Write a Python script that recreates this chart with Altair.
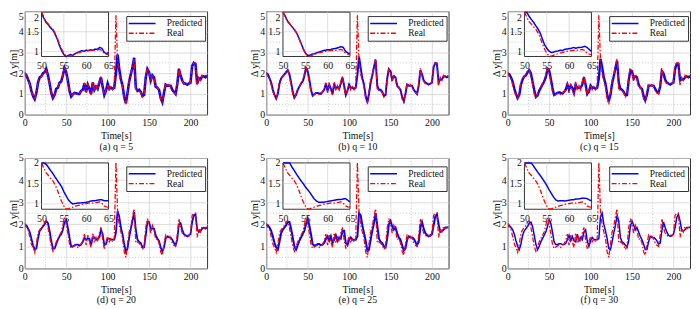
import altair as alt
import pandas as pd

FONT = "Liberation Serif"

# ---------------- data ----------------
time = list(range(0, 221, 2))                      # seconds, main plots
inset_time = [50 + 0.5 * i for i in range(31)]     # seconds, zoomed insets

real = [2.05, 1.85, 1.75, 1.45, 1.10, 0.95, 0.72, 1.10, 1.60, 1.75,
        1.85, 1.95, 2.10, 2.15, 1.85, 1.45, 1.00, 0.78, 1.00, 1.20,
        1.35, 1.50, 1.65, 1.95, 2.30, 2.00, 1.60, 1.10, 0.90, 0.97,
        1.02, 1.05, 0.95, 1.05, 1.10, 1.25, 1.55, 1.05, 1.50, 1.20,
        0.95, 1.60, 1.15, 1.40, 1.20, 1.60, 1.85, 1.30, 0.90, 1.20,
        1.45, 1.20, 1.35, 1.20, 1.35, 4.80, 2.60, 1.95, 1.65, 1.35,
        0.75, 0.50, 1.10, 1.65, 1.90, 2.35, 2.70, 1.15, 1.20, 1.15,
        1.05, 0.85, 1.00, 1.85, 2.25, 2.00, 1.60, 1.95, 1.75, 1.30,
        1.35, 1.15, 0.75, 0.60, 1.10, 1.50, 1.35, 1.45, 1.35, 1.15,
        1.05, 1.00, 1.50, 2.25, 1.85, 1.60, 1.50, 1.45, 1.50, 1.45,
        1.60, 2.40, 2.50, 2.50, 1.40, 1.80, 1.65, 1.90, 1.80, 1.85,
        1.90]

pred_q5 = [2.00, 1.90, 1.70, 1.50, 1.15, 0.90, 0.75, 1.05, 1.55, 1.80,
           1.85, 2.00, 2.05, 2.20, 1.90, 1.50, 1.05, 0.80, 0.95, 1.25,
           1.30, 1.55, 1.60, 1.90, 2.25, 2.05, 1.65, 1.15, 0.88, 0.98,
           1.05, 1.03, 1.00, 1.00, 1.15, 1.20, 1.50, 1.10, 1.45, 1.25,
           1.00, 1.55, 1.20, 1.35, 1.25, 1.55, 1.80, 1.35, 0.95, 1.15,
           1.50, 1.25, 1.30, 1.25, 1.30, 2.00, 2.90, 2.20, 1.70, 1.40,
           0.85, 0.55, 1.05, 1.60, 1.95, 2.30, 2.75, 1.30, 1.15, 1.20,
           1.10, 0.90, 0.95, 1.80, 2.20, 2.05, 1.65, 1.90, 1.80, 1.35,
           1.30, 1.20, 0.80, 0.60, 1.05, 1.45, 1.40, 1.40, 1.40, 1.20,
           1.10, 1.00, 1.45, 2.20, 1.90, 1.65, 1.50, 1.50, 1.45, 1.50,
           1.55, 2.35, 2.50, 2.45, 1.50, 1.75, 1.70, 1.85, 1.85, 1.80,
           1.90]

pred_q10 = [2.00, 1.95, 1.75, 1.55, 1.20, 0.95, 0.78, 1.00, 1.50, 1.75,
            1.85, 1.95, 2.05, 2.15, 1.95, 1.55, 1.10, 0.82, 0.95, 1.20,
            1.35, 1.50, 1.60, 1.85, 2.25, 2.10, 1.70, 1.20, 0.92, 0.98,
            1.05, 1.05, 1.02, 1.00, 1.10, 1.20, 1.50, 1.15, 1.45, 1.25,
            1.00, 1.50, 1.25, 1.35, 1.25, 1.50, 1.80, 1.40, 0.95, 1.15,
            1.45, 1.30, 1.30, 1.25, 1.30, 1.90, 2.80, 2.25, 1.75, 1.45,
            0.90, 0.60, 1.00, 1.55, 1.90, 2.30, 2.65, 1.40, 1.20, 1.20,
            1.10, 0.90, 0.95, 1.75, 2.20, 2.10, 1.70, 1.85, 1.80, 1.40,
            1.30, 1.20, 0.85, 0.65, 1.00, 1.45, 1.40, 1.40, 1.40, 1.20,
            1.10, 1.00, 1.40, 2.15, 1.95, 1.65, 1.55, 1.50, 1.45, 1.50,
            1.55, 2.30, 2.50, 2.45, 1.55, 1.70, 1.70, 1.85, 1.85, 1.80,
            1.85]

pred_q15 = [1.95, 1.95, 1.80, 1.60, 1.25, 1.00, 0.80, 0.95, 1.45, 1.70,
            1.85, 1.90, 2.05, 2.15, 2.00, 1.60, 1.20, 0.85, 0.92, 1.15,
            1.30, 1.45, 1.60, 1.80, 2.20, 2.15, 1.75, 1.30, 0.95, 1.00,
            1.05, 1.08, 1.05, 1.02, 1.10, 1.20, 1.45, 1.20, 1.40, 1.30,
            1.05, 1.45, 1.30, 1.30, 1.30, 1.45, 1.80, 1.45, 1.00, 1.10,
            1.40, 1.30, 1.30, 1.25, 1.30, 1.75, 2.70, 2.30, 1.80, 1.50,
            1.00, 0.65, 0.95, 1.50, 1.85, 2.25, 2.60, 1.55, 1.25, 1.20,
            1.10, 0.95, 0.95, 1.65, 2.15, 2.10, 1.75, 1.85, 1.80, 1.45,
            1.30, 1.25, 0.90, 0.70, 0.95, 1.40, 1.40, 1.40, 1.40, 1.25,
            1.10, 1.05, 1.35, 2.10, 2.00, 1.70, 1.55, 1.50, 1.45, 1.50,
            1.55, 2.20, 2.45, 2.45, 1.65, 1.70, 1.70, 1.80, 1.85, 1.80,
            1.85]

pred_q20 = [1.95, 1.95, 1.80, 1.65, 1.35, 1.05, 0.85, 0.90, 1.35, 1.70,
            1.80, 1.90, 2.00, 2.15, 2.05, 1.70, 1.25, 0.90, 0.90, 1.10,
            1.30, 1.45, 1.55, 1.75, 2.10, 2.20, 1.85, 1.40, 1.00, 1.00,
            1.05, 1.08, 1.08, 1.03, 1.08, 1.20, 1.40, 1.30, 1.35, 1.35,
            1.05, 1.40, 1.40, 1.30, 1.35, 1.40, 1.75, 1.55, 1.05, 1.10,
            1.35, 1.35, 1.30, 1.30, 1.30, 1.60, 2.60, 2.35, 1.85, 1.55,
            1.10, 0.75, 0.90, 1.40, 1.80, 2.15, 2.55, 1.75, 1.30, 1.20,
            1.15, 0.95, 0.95, 1.50, 2.10, 2.10, 1.80, 1.80, 1.80, 1.50,
            1.35, 1.25, 0.95, 0.75, 0.95, 1.35, 1.45, 1.40, 1.40, 1.30,
            1.15, 1.05, 1.30, 2.00, 2.05, 1.75, 1.55, 1.50, 1.45, 1.50,
            1.55, 2.10, 2.40, 2.45, 1.80, 1.65, 1.70, 1.80, 1.85, 1.80,
            1.85]

pred_q25 = [1.95, 1.95, 1.85, 1.70, 1.45, 1.15, 0.95, 0.85, 1.20, 1.60,
            1.75, 1.85, 1.95, 2.10, 2.10, 1.80, 1.40, 1.00, 0.85, 1.05,
            1.25, 1.40, 1.55, 1.70, 2.00, 2.25, 1.95, 1.55, 1.10, 1.03,
            1.05, 1.10, 1.10, 1.05, 1.08, 1.15, 1.35, 1.45, 1.25, 1.45,
            1.15, 1.30, 1.50, 1.25, 1.40, 1.35, 1.70, 1.70, 1.15, 1.05,
            1.30, 1.40, 1.30, 1.30, 1.30, 1.45, 2.50, 2.40, 1.95, 1.60,
            1.25, 0.80, 0.85, 1.30, 1.70, 2.05, 2.50, 1.95, 1.35, 1.20,
            1.15, 1.00, 0.95, 1.35, 2.00, 2.15, 1.90, 1.75, 1.85, 1.60,
            1.40, 1.30, 1.05, 0.80, 0.90, 1.30, 1.45, 1.40, 1.40, 1.35,
            1.20, 1.05, 1.20, 1.85, 2.10, 1.80, 1.60, 1.50, 1.45, 1.50,
            1.55, 1.95, 2.35, 2.45, 2.00, 1.65, 1.70, 1.75, 1.85, 1.85,
            1.85]

pred_q30 = [1.90, 1.95, 1.85, 1.75, 1.55, 1.25, 1.00, 0.85, 1.10, 1.50,
            1.70, 1.80, 1.90, 2.05, 2.10, 1.90, 1.50, 1.10, 0.85, 1.00,
            1.20, 1.35, 1.50, 1.65, 1.90, 2.20, 2.05, 1.65, 1.20, 1.08,
            1.08, 1.12, 1.12, 1.08, 1.08, 1.12, 1.30, 1.50, 1.25, 1.45,
            1.25, 1.20, 1.55, 1.25, 1.40, 1.30, 1.65, 1.75, 1.25, 1.00,
            1.25, 1.40, 1.30, 1.30, 1.30, 1.35, 2.35, 2.50, 2.00, 1.70,
            1.35, 0.90, 0.85, 1.20, 1.60, 1.95, 2.40, 2.15, 1.40, 1.20,
            1.15, 1.05, 0.95, 1.25, 1.90, 2.15, 1.95, 1.75, 1.85, 1.65,
            1.45, 1.30, 1.10, 0.85, 0.85, 1.20, 1.45, 1.40, 1.40, 1.35,
            1.25, 1.10, 1.15, 1.70, 2.10, 1.85, 1.65, 1.50, 1.45, 1.50,
            1.55, 1.85, 2.30, 2.45, 2.15, 1.70, 1.70, 1.75, 1.85, 1.85,
            1.85]

real_in = [2.00, 1.88, 1.76, 1.70, 1.63, 1.57, 1.48, 1.35, 1.20, 1.06,
           0.95, 0.88, 0.88, 0.90, 0.92, 0.94, 0.96, 0.97, 0.99, 1.00,
           1.01, 1.02, 1.03, 1.02, 1.03, 1.04, 1.05, 1.02, 0.95, 0.93,
           0.92]
pred_in_q5 = [1.97, 1.85, 1.74, 1.68, 1.60, 1.55, 1.45, 1.32, 1.15, 1.02,
              0.92, 0.87, 0.90, 0.92, 0.90, 0.94, 0.97, 0.99, 1.02, 1.00,
              1.03, 1.02, 1.04, 1.03, 1.06, 1.05, 1.10, 1.08, 0.98, 0.94,
              0.97]
pred_in_q10 = [2.00, 1.90, 1.78, 1.70, 1.63, 1.56, 1.48, 1.36, 1.22, 1.08,
               0.96, 0.90, 0.90, 0.93, 0.94, 0.96, 0.98, 1.00, 1.02, 1.03,
               1.04, 1.04, 1.06, 1.07, 1.08, 1.10, 1.12, 1.10, 1.00, 0.96,
               0.94]
pred_in_q15 = [2.10, 2.02, 1.90, 1.82, 1.75, 1.66, 1.58, 1.47, 1.32, 1.17,
               1.08, 1.01, 0.97, 0.98, 1.00, 1.01, 1.03, 1.02, 1.05, 1.06,
               1.07, 1.08, 1.10, 1.08, 1.10, 1.10, 1.11, 1.13, 1.10, 1.05,
               1.00]
pred_in_q20 = [2.15, 2.05, 1.97, 1.90, 1.82, 1.75, 1.66, 1.58, 1.50, 1.42,
               1.30, 1.20, 1.10, 1.04, 1.00, 1.01, 1.02, 1.02, 1.03, 1.03,
               1.04, 1.05, 1.07, 1.08, 1.08, 1.09, 1.10, 1.10, 1.08, 1.08,
               1.08]
pred_in_q25 = [2.25, 2.15, 2.06, 2.00, 1.90, 1.82, 1.73, 1.65, 1.57, 1.50,
               1.42, 1.35, 1.28, 1.20, 1.12, 1.07, 1.04, 1.04, 1.04, 1.05,
               1.06, 1.07, 1.08, 1.09, 1.10, 1.11, 1.11, 1.12, 1.13, 1.09,
               1.05]
pred_in_q30 = [2.35, 2.25, 2.12, 2.02, 1.93, 1.85, 1.77, 1.70, 1.62, 1.54,
               1.45, 1.35, 1.26, 1.17, 1.10, 1.07, 1.08, 1.08, 1.07, 1.08,
               1.09, 1.10, 1.10, 1.12, 1.12, 1.13, 1.14, 1.14, 1.13, 1.10,
               1.08]

captions = ["(a) q = 5", "(b) q = 10", "(c) q = 15",
            "(d) q = 20", "(e) q = 25", "(f) q = 30"]
series_names = ["Predicted", "Real"]
x_lim = [0, 220]
y_lim = [0, 5]
x_ticks = [0, 50, 100, 150, 200]
y_ticks = [0, 1, 2, 3, 4, 5]
x_minor = [25, 75, 125, 175]
y_minor = [0.5, 1.5, 2.5, 3.5, 4.5]
inset_xlim = [50, 65]
inset_ylim = [0.87, 2.0]
inset_x_ticks = [50, 55, 60, 65]
inset_y_ticks = [1, 1.5, 2]

for arr in [real, pred_q5, pred_q10, pred_q15, pred_q20, pred_q25, pred_q30]:
    assert len(arr) == len(time), len(arr)
for arr in [real_in, pred_in_q5, pred_in_q10, pred_in_q15, pred_in_q20, pred_in_q25, pred_in_q30]:
    assert len(arr) == len(inset_time), len(arr)

# ---------------- styling ----------------
COLORS = ["#0000ff", "#ff0000"]
DASHES = [[1, 0], [5, 2, 1.5, 2]]
W = 185
TXT = dict(labelFont=FONT, labelFontSize=10, labelColor="#111")


def legend(y):
    return alt.Legend(title=None, orient="none", legendX=103, legendY=y,
                      direction="vertical", fillColor="white", strokeColor="#333",
                      padding=2.5, symbolType="M-3.4,0H3.4", symbolSize=64,
                      symbolStrokeWidth=1.5, symbolOffset=8.6, labelOffset=20,
                      labelFont=FONT, labelFontSize=9.5, labelColor="#111",
                      rowPadding=0, cornerRadius=0)


def panel(caption, pred, pred_in, pw, H, iy_px, legend_y, top_row):
    color = alt.Color("series:N", scale=alt.Scale(domain=series_names, range=COLORS),
                      legend=legend(legend_y))
    dash = alt.StrokeDash("series:N", scale=alt.Scale(domain=series_names, range=DASHES),
                          legend=legend(legend_y))
    xs = alt.Scale(domain=x_lim, nice=False, zero=False)
    ys = alt.Scale(domain=y_lim, nice=False, zero=False)
    ybase = ({"condition": {"test": "datum.value == 5", "value": "top"}, "value": "middle"}
             if top_row else "middle")
    xaxis = alt.Axis(values=x_ticks, title=["Time[s]", caption], grid=True,
                     gridColor="#d4d4d4", gridWidth=0.8, ticks=False, domain=False,
                     labelPadding=3, titlePadding=3, titleLineHeight=11,
                     titleFont=FONT, titleFontSize=10, titleFontWeight="normal",
                     titleColor="#111", labelFlush=False, labelOverlap=False,
                     orient="bottom", **TXT)
    yaxis = alt.Axis(values=y_ticks, title="\u0394 y[m]", grid=True,
                     gridColor="#d4d4d4", gridWidth=0.8, ticks=False, domain=False,
                     labelPadding=1.5, titlePadding=0, labelBaseline=ybase, orient="left",
                     titleFont=FONT, titleFontSize=10, titleFontWeight="normal",
                     titleColor="#111", labelOverlap=False, **TXT)

    pred_df = pd.DataFrame({"t": time, "v": pred, "series": "Predicted"})
    real_df = pd.DataFrame({"t": time, "v": real, "series": "Real"})
    mx = alt.Chart(pd.DataFrame({"t": x_minor})).mark_rule(
        color="#b0b0b0", strokeDash=[1, 2], strokeWidth=0.7, clip=True).encode(
        x=alt.X("t:Q", scale=xs, axis=None))
    my = alt.Chart(pd.DataFrame({"v": y_minor})).mark_rule(
        color="#b0b0b0", strokeDash=[1, 2], strokeWidth=0.7, clip=True).encode(
        y=alt.Y("v:Q", scale=ys, axis=None))
    lp = alt.Chart(pred_df).mark_line(strokeWidth=pw, clip=True).encode(
        x=alt.X("t:Q", scale=xs, axis=xaxis), y=alt.Y("v:Q", scale=ys, axis=yaxis),
        color=color, strokeDash=dash)
    lr = alt.Chart(real_df).mark_line(strokeWidth=1.3, clip=True).encode(
        x=alt.X("t:Q", scale=xs, axis=None), y=alt.Y("v:Q", scale=ys, axis=None),
        color=color, strokeDash=dash)

    # inset
    ileft, iright = 17, 85
    itop, ibot = iy_px
    ixs = alt.Scale(domain=inset_xlim, range=[ileft, iright], nice=False, zero=False)
    iys = alt.Scale(domain=inset_ylim, range=[ibot, itop], nice=False, zero=False, clamp=True)
    iybase = ({"condition": {"test": "datum.value == 2", "value": "top"}, "value": "middle"}
              if top_row else "middle")
    ixaxis = alt.Axis(orient="bottom", offset=-(H - ibot), values=inset_x_ticks, title=None,
                      grid=False, ticks=False, domain=False, labelPadding=4,
                      labelFlush=False, labelOverlap=False, **TXT)
    iyaxis = alt.Axis(orient="left", offset=-ileft, values=inset_y_ticks, format="~g",
                      title=None, grid=False, ticks=False, domain=False, labelPadding=3,
                      labelBaseline=iybase, labelOverlap=False, **TXT)
    box = pd.DataFrame({"x0": [inset_xlim[0]], "x1": [inset_xlim[1]],
                        "y0": [inset_ylim[0]], "y1": [inset_ylim[1]]})
    rect = alt.Chart(box).mark_rect(fill="white", stroke="#333", strokeWidth=1,
                                    clip=True).encode(
        x=alt.X("x0:Q", scale=ixs, axis=ixaxis), x2="x1:Q",
        y=alt.Y("y0:Q", scale=iys, axis=iyaxis), y2="y1:Q")
    gx = pd.DataFrame({"t": inset_x_ticks[1:-1], "y0": inset_ylim[0], "y1": inset_ylim[1]})
    gy = pd.DataFrame({"v": inset_y_ticks[:-1], "x0": inset_xlim[0], "x1": inset_xlim[1]})
    igx = alt.Chart(gx).mark_rule(color="#cfcfcf", strokeWidth=0.7, clip=True).encode(
        x=alt.X("t:Q", scale=ixs, axis=None), y=alt.Y("y0:Q", scale=iys, axis=None), y2="y1:Q")
    igy = alt.Chart(gy).mark_rule(color="#cfcfcf", strokeWidth=0.7, clip=True).encode(
        y=alt.Y("v:Q", scale=iys, axis=None), x=alt.X("x0:Q", scale=ixs, axis=None), x2="x1:Q")
    ipd = pd.DataFrame({"t": inset_time, "v": pred_in, "series": "Predicted"})
    ird = pd.DataFrame({"t": inset_time, "v": real_in, "series": "Real"})
    ipl = alt.Chart(ipd).mark_line(strokeWidth=1.5, clip=True).encode(
        x=alt.X("t:Q", scale=ixs, axis=None), y=alt.Y("v:Q", scale=iys, axis=None),
        color=color, strokeDash=dash)
    irl = alt.Chart(ird).mark_line(strokeWidth=1.3, clip=True).encode(
        x=alt.X("t:Q", scale=ixs, axis=None), y=alt.Y("v:Q", scale=iys, axis=None),
        color=color, strokeDash=dash)

    return alt.layer(mx, my, lp, lr, rect, igx, igy, ipl, irl).resolve_scale(
        x="independent", y="independent").properties(width=W, height=H)


preds = [pred_q5, pred_q10, pred_q15, pred_q20, pred_q25, pred_q30]
preds_in = [pred_in_q5, pred_in_q10, pred_in_q15, pred_in_q20, pred_in_q25, pred_in_q30]
widths = [2.6, 2.0, 2.4, 1.8, 2.0, 1.5]

top = [panel(captions[i], preds[i], preds_in[i], widths[i], 105, (1, 46), 5, True)
       for i in range(3)]
bottom = [panel(captions[i], preds[i], preds_in[i], widths[i], 112, (5, 52), 8.5, False)
          for i in range(3, 6)]

row1 = alt.hconcat(*top, spacing=42).resolve_scale(color="independent", strokeDash="independent")
row2 = alt.hconcat(*bottom, spacing=42).resolve_scale(color="independent", strokeDash="independent")

chart = alt.vconcat(row1, row2, spacing=0).resolve_scale(
    color="independent", strokeDash="independent").properties(padding=0)

chart = chart.configure_view(stroke="#333", strokeWidth=1).configure_axis(
    labelFont=FONT, titleFont=FONT, labelFontSize=10, titleFontSize=10,
    titleFontWeight="normal", labelColor="#111", titleColor="#111")

chart.save("out.html", embed_options={"renderer": "svg", "actions": False})
